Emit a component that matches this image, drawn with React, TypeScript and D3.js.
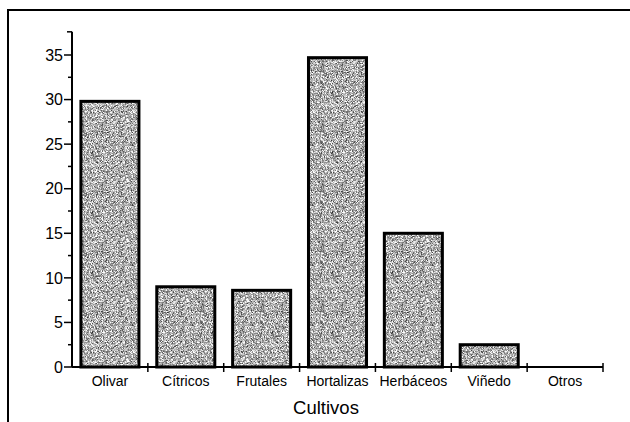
import React from 'react';
import * as d3 from "d3";

const cultivos = ["Olivar", "Cítricos", "Frutales", "Hortalizas", "Herbáceos", "Viñedo", "Otros"];
const valores = [29.8, 9.0, 8.6, 34.7, 15.0, 2.5, 0];
const yTicks = [0, 5, 10, 15, 20, 25, 30, 35];
const yMinorTicks = [2.5, 7.5, 12.5, 17.5, 22.5, 27.5, 32.5];
const xTitle = "Cultivos";

const width = 630;
const height = 422;

const App = () => {
    const svgRef = React.useRef<SVGSVGElement>(null);

    React.useEffect(() => {
        const svg = d3.select(svgRef.current);

        const left = 72, right = 603, bottom = 367;
        const yMax = 37.6;
        const font = "Arial, 'Liberation Sans', sans-serif";

        const xScale = d3.scaleBand<string>()
            .domain(cultivos)
            .range([left, right])
            .paddingInner(0.235)
            .paddingOuter(0.1175);

        const yScale = d3.scaleLinear()
            .domain([0, 35])
            .range([bottom, 55]);

        // grainy grey fill, like the scanned print
        const defs = svg.append("defs");
        const filter = defs.append("filter")
            .attr("id", "grain")
            .attr("x", 0).attr("y", 0).attr("width", 1).attr("height", 1)
            .attr("color-interpolation-filters", "sRGB");
        filter.append("feTurbulence")
            .attr("type", "fractalNoise")
            .attr("baseFrequency", 2.2)
            .attr("numOctaves", 1)
            .attr("seed", 3);
        filter.append("feColorMatrix")
            .attr("type", "matrix")
            .attr("values", "1.8 0 0 0 -0.22  1.8 0 0 0 -0.22  1.8 0 0 0 -0.22  0 0 0 0 1");
        const pat = defs.append("pattern")
            .attr("id", "dither")
            .attr("width", 60)
            .attr("height", 60)
            .attr("patternUnits", "userSpaceOnUse");
        pat.append("rect")
            .attr("width", 60).attr("height", 60)
            .attr("fill", "#aaa")
            .attr("filter", "url(#grain)");

        // outer frame (right and bottom edges are off the picture)
        svg.append("rect")
            .attr("x", 8)
            .attr("y", 10)
            .attr("width", 640)
            .attr("height", 440)
            .attr("fill", "none")
            .attr("stroke", "#000")
            .attr("stroke-width", 2);

        const chart = svg.append("g");

        // bars
        chart.selectAll(".bar")
            .data(valores.map((v, i) => ({name: cultivos[i], value: v})).filter(d => d.value > 0))
            .enter()
            .append("rect")
            .attr("class", "bar")
            .attr("x", d => xScale(d.name)!)
            .attr("y", d => yScale(d.value))
            .attr("width", xScale.bandwidth())
            .attr("height", d => bottom - yScale(d.value))
            .attr("fill", "url(#dither)")
            .attr("stroke", "#000")
            .attr("stroke-width", 3);

        // y axis
        const yAxisG = chart.append("g").attr("font-family", font);
        yAxisG.append("line")
            .attr("x1", left).attr("x2", left)
            .attr("y1", yScale(yMax)).attr("y2", bottom)
            .attr("stroke", "#000").attr("stroke-width", 2);
        yAxisG.selectAll(".major")
            .data(yTicks)
            .enter()
            .append("line")
            .attr("x1", left - 8).attr("x2", left)
            .attr("y1", d => yScale(d)).attr("y2", d => yScale(d))
            .attr("stroke", "#000").attr("stroke-width", 1.5);
        yAxisG.selectAll(".minor")
            .data(yMinorTicks)
            .enter()
            .append("line")
            .attr("x1", left - 4).attr("x2", left)
            .attr("y1", d => yScale(d)).attr("y2", d => yScale(d))
            .attr("stroke", "#000").attr("stroke-width", 1.5);
        yAxisG.append("line")
            .attr("x1", left - 5).attr("x2", left)
            .attr("y1", yScale(yMax)).attr("y2", yScale(yMax))
            .attr("stroke", "#000").attr("stroke-width", 1.5);
        yAxisG.selectAll(".lbl")
            .data(yTicks)
            .enter()
            .append("text")
            .attr("x", left - 9)
            .attr("y", d => yScale(d))
            .attr("dy", "0.36em")
            .attr("text-anchor", "end")
            .attr("font-size", 16)
            .text(d => d);

        // x axis
        const xAxisG = chart.append("g").attr("font-family", font);
        xAxisG.append("line")
            .attr("x1", left).attr("x2", right)
            .attr("y1", bottom).attr("y2", bottom)
            .attr("stroke", "#000").attr("stroke-width", 2);
        const step = xScale.step();
        const bounds = d3.range(cultivos.length + 1).map(i => left + i * step);
        xAxisG.selectAll(".xt")
            .data(bounds.slice(1))
            .enter()
            .append("line")
            .attr("x1", d => d).attr("x2", d => d)
            .attr("y1", bottom - 4).attr("y2", bottom + 5)
            .attr("stroke", "#000").attr("stroke-width", 1.5);
        xAxisG.selectAll(".xl")
            .data(cultivos)
            .enter()
            .append("text")
            .attr("x", d => xScale(d)! + xScale.bandwidth() / 2)
            .attr("y", bottom + 19)
            .attr("text-anchor", "middle")
            .attr("font-size", 14)
            .text(d => d);
        xAxisG.append("text")
            .attr("x", 326)
            .attr("y", 414)
            .attr("text-anchor", "middle")
            .attr("font-size", 18.5)
            .text(xTitle);

        return () => {
            svg.selectAll("*").remove();
        };
    }, []);

    return (
        <div style={{position: "absolute", top: 0, left: 0, background: "white"}}>
            <svg ref={svgRef} width={width} height={height}></svg>
        </div>
    );
};

export default App;
